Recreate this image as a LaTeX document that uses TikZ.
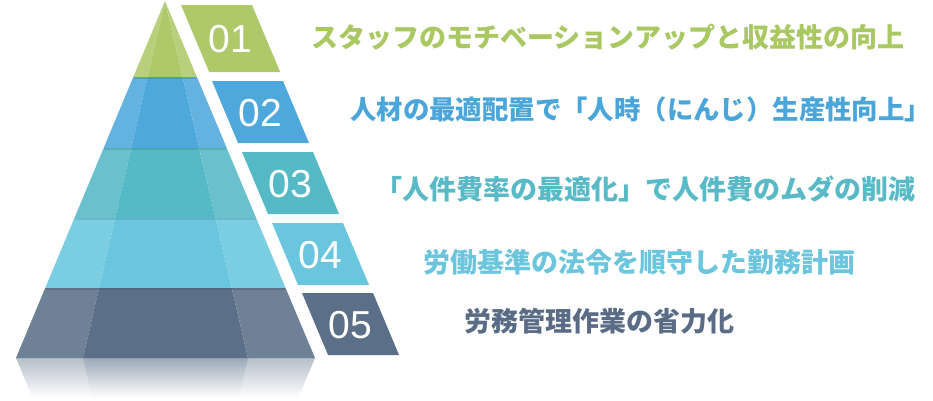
\documentclass[tikz,border=0pt]{standalone}
\usepackage{fontspec}
\setmainfont{Liberation Sans}
\newfontfamily\jp{Noto Sans CJK JP}
\definecolor{cg}{HTML}{AEC96A}
\definecolor{cb}{HTML}{4FA8DC}
\definecolor{ct}{HTML}{56B9C6}
\definecolor{cl}{HTML}{69C6DE}
\definecolor{cs}{HTML}{5B7088}
\definecolor{tg}{HTML}{A9C862}
\definecolor{tb}{HTML}{4AA6DA}
\definecolor{tt}{HTML}{59BAC7}
\definecolor{tl}{HTML}{6AC5DD}
\definecolor{ts}{HTML}{5A6C85}
\tikzset{
  numtext/.style={text=white,font=\fontsize{39}{39}\selectfont,inner sep=0pt},
  captext/.style={anchor=west,inner sep=0pt,font=\jp\bfseries\fontsize{27}{27}\selectfont},
}
\begin{document}
\begin{tikzpicture}[x=1pt,y=-1pt]
\useasboundingbox (0,0) rectangle (933,400);
% reflection
\foreach \ya/\yb in {358/398}{
  \shade[top color=cs!45!white,bottom color=white]
    ({16+0.4174*(\yb-\ya)},\yb) -- (16,\ya) -- (315,\ya) -- ({315-0.4202*(\yb-\ya)},\yb) -- cycle;
  \shade[top color=cs!60!white,bottom color=white]
    ({83+0.2297*(\yb-\ya)},\yb) -- (83,\ya) -- (248,\ya) -- ({248-0.2325*(\yb-\ya)},\yb) -- cycle;
}
% pyramid tiers
\foreach \ya/\yb/\c in {1/77/cg,77/148/cb,148/218/ct,218/288/cl,288/358/cs}{
  \fill[\c!88!white] ({165-0.4174*(\ya-1)},\ya) -- ({165-0.2297*(\ya-1)},\ya)
     -- ({165-0.2297*(\yb-1)},\yb) -- ({165-0.4174*(\yb-1)},\yb) -- cycle;
  \fill[\c] ({165-0.2297*(\ya-1)},\ya) -- ({165+0.2325*(\ya-1)},\ya)
     -- ({165+0.2325*(\yb-1)},\yb) -- ({165-0.2297*(\yb-1)},\yb) -- cycle;
  \fill[\c!88!white] ({165+0.2325*(\ya-1)},\ya) -- ({165+0.4202*(\ya-1)},\ya)
     -- ({165+0.4202*(\yb-1)},\yb) -- ({165+0.2325*(\yb-1)},\yb) -- cycle;
}
\foreach \ya/\c in {77/cb,148/ct,218/cl,288/cs}{
  \draw[\c!75!black,opacity=0.35,line width=1.5pt]
    ({165-0.4174*(\ya-1)+0.6},\ya+0.8) -- ({165+0.4202*(\ya-1)-0.6},\ya+0.8);
}
% tabs
\foreach \i/\xa/\ya/\yb/\c in {1/181/5/72/cg,2/212/81/143/cb,3/242/152/214/ct,4/272/223/285/cl,5/302/293/355/cs}{
  \fill[\c] (\xa,\ya) -- ({\xa+71},\ya) -- ({\xa+71+0.42*(\yb-\ya)},\yb) -- ({\xa+0.42*(\yb-\ya)},\yb) -- cycle;
  \coordinate (c\i) at ({\xa+35.5+0.21*(\yb-\ya)},{(\ya+\yb)/2+1});
}
\node[numtext] (n1) at (c1) {01};
\node[numtext] (n2) at (c2) {02};
\node[numtext] (n3) at (c3) {03};
\node[numtext] (n4) at (c4) {04};
\node[numtext] (n5) at (c5) {05};
% captions
\node[captext,text=tg] (t1) at (311,37) {スタッフのモチベーションアップと収益性の向上};
\node[captext,text=tb,font=\jp\bfseries\fontsize{26.4}{26.4}\selectfont] (t2) at (350,109) {人材の最適配置で「人時（にんじ）生産性向上」};
\node[captext,text=tt] (t3) at (375,189) {「人件費率の最適化」で人件費のムダの削減};
\node[captext,text=tl] (t4) at (423,262) {労働基準の法令を順守した勤務計画};
\node[captext,text=ts] (t5) at (464,321) {労務管理作業の省力化};
\end{tikzpicture}
\end{document}
